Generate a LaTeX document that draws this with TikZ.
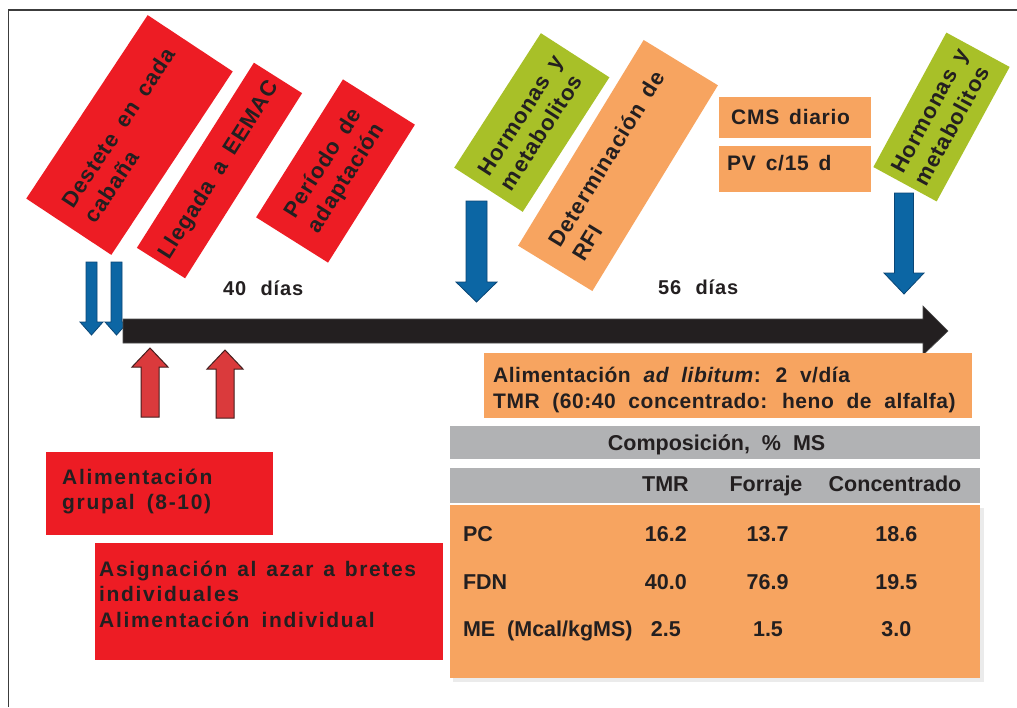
\documentclass[tikz,border=0pt]{standalone}
\usepackage{fontspec}
\setmainfont{Liberation Sans}
\newfontfamily\rotf[LetterSpace=4,WordSpace=1.6]{Liberation Sans}
\newfontfamily\redf[LetterSpace=8,WordSpace=1.6]{Liberation Sans}
\newfontfamily\orgf[LetterSpace=2.5,WordSpace=2]{Liberation Sans}
\newfontfamily\cmsf[LetterSpace=3.5,WordSpace=1.5]{Liberation Sans}
\newfontfamily\dayf[LetterSpace=4.5,WordSpace=2.2]{Liberation Sans}
\newfontfamily\tabf[WordSpace=2]{Liberation Sans}
\definecolor{boxred}{RGB}{237,28,36}
\definecolor{boxorange}{RGB}{247,164,96}
\definecolor{boxgreen}{RGB}{168,192,40}
\definecolor{boxgray}{RGB}{177,178,180}
\definecolor{txt}{RGB}{35,31,32}
\definecolor{arrblue}{RGB}{12,102,164}
\definecolor{arrblueD}{RGB}{10,70,118}
\definecolor{arrred}{RGB}{218,58,60}
\definecolor{arrredD}{RGB}{70,30,30}
\definecolor{framec}{RGB}{60,60,60}
\newcommand\tstrut{\rule{0pt}{18pt}}
\begin{document}
\begin{tikzpicture}[x=1pt,y=-1pt,
  rotbox/.style={draw=none,inner sep=0pt,align=left,text=txt,
    font=\rotf\bfseries\fontsize{22}{27}\selectfont},
  flatbox/.style={draw=none,inner sep=0pt,anchor=north west},
  redtext/.style={inner sep=0pt,anchor=north west,align=left,text=txt,
    font=\redf\bfseries\fontsize{21}{25.5}\selectfont},
  orgtext/.style={inner sep=0pt,text=txt,font=\orgf\bfseries\fontsize{21}{25.5}\selectfont},
  cmstext/.style={inner sep=0pt,anchor=base west,text=txt,font=\cmsf\bfseries\fontsize{21}{25}\selectfont},
  daytext/.style={inner sep=0pt,anchor=base west,text=txt,font=\dayf\bfseries\fontsize{20}{24}\selectfont},
  tabtext/.style={inner sep=0pt,anchor=base,text=txt,font=\tabf\bfseries\fontsize{21.5}{25}\selectfont},
  tablabel/.style={tabtext,anchor=base west},
  bluearrow/.style={fill=arrblue,draw=arrblueD,line width=0.8pt,line join=miter},
  redarrow/.style={fill=arrred,draw=arrredD,line width=1pt,line join=miter},
  timeline/.style={fill=txt,draw=black!70,line width=0.6pt}]
\useasboundingbox (0,0) rectangle (1017,707);
\fill[white] (0,0) rectangle (1017,707);
\draw[framec,line width=1.6pt] (8.5,707) -- (8.5,10) -- (1017,10);

% rotated boxes
\node[rotbox,fill=boxred,minimum width=220,minimum height=102,rotate=56.5] (destete) at (129.5,135) {Destete en cada\\cabaña};
\node[rotbox,fill=boxred,minimum width=219,minimum height=57,rotate=57.7,align=center] (llegada) at (219.5,170.5) {Llegada a EEMAC};
\node[rotbox,fill=boxred,minimum width=163,minimum height=85,rotate=57.8] (periodo) at (335.5,171) {Período de\\adaptación};
\node[rotbox,fill=boxgreen,minimum width=160,minimum height=81.5,rotate=57.2] (horm1) at (531.8,122.5) {Hormonas y\\metabolitos};
\node[rotbox,fill=boxorange,minimum width=241,minimum height=87,rotate=58.6] (rfi) at (618,165.5) {Determinación de\\RFI};
\node[rotbox,fill=boxgreen,minimum width=153,minimum height=72,rotate=61.5] (horm2) at (941.5,117) {Hormonas y\\metabolitos};

% CMS / PV
\node[flatbox,fill=boxorange,minimum width=152,minimum height=41] (cmsbox) at (719,97) {};
\node[cmstext] (cms) at (731,124.3) {CMS diario};
\node[flatbox,fill=boxorange,minimum width=152,minimum height=46] (pvbox) at (719,146) {};
\node[cmstext] (pv) at (727,170) {PV c/15 d};

% blue arrows
\draw[bluearrow] (86,262) -- (97,262) -- (97,322) -- (103,322) -- (91.5,335) -- (80,322) -- (86,322) -- cycle;
\draw[bluearrow] (111,262) -- (122,262) -- (122,322) -- (128,322) -- (116.5,335) -- (105,322) -- (111,322) -- cycle;
\draw[bluearrow] (466,201) -- (487,201) -- (487,282) -- (497,282) -- (476.5,302) -- (456,282) -- (466,282) -- cycle;
\draw[bluearrow] (894.5,193) -- (913.5,193) -- (913.5,273) -- (924,273) -- (904,294) -- (884,273) -- (894.5,273) -- cycle;

% timeline
\draw[timeline] (123,319) -- (923,319) -- (923,306) -- (948,331) -- (923,355) -- (923,343) -- (123,343) -- cycle;
\node[daytext] (d40) at (223,295) {40 días};
\node[daytext] (d56) at (658,294) {56 días};

% red arrows
\draw[redarrow] (141,417) -- (159,417) -- (159,367) -- (168,367) -- (150,348) -- (132,367) -- (141,367) -- cycle;
\draw[redarrow] (216,418) -- (234,418) -- (234,369) -- (243,369) -- (225,350) -- (207,369) -- (216,369) -- cycle;

% red flat boxes
\node[flatbox,fill=boxred,minimum width=227,minimum height=83] (grupalbox) at (46,452) {};
\node[redtext] (grupal) at (62,466) {\tstrut Alimentación\\grupal (8-10)};
\node[flatbox,fill=boxred,minimum width=348,minimum height=117] (asigbox) at (95,543) {};
\node[redtext,text width=317pt,align=justify] (asig) at (99,558) {\tstrut Asignación al azar a bretes individuales\\Alimentación individual};

% ad libitum box
\node[flatbox,fill=boxorange,minimum width=488,minimum height=65] (adlibbox) at (484,353) {};
\node[orgtext,anchor=north west,align=left] (adlib) at (493,364.7) {\tstrut Alimentación \textit{ad libitum}: 2 v/día\\TMR (60:40 concentrado: heno de alfalfa)};

% table
\fill[black!8] (453,508) rectangle (984,682);
\node[flatbox,fill=boxgray,minimum width=530,minimum height=33] (head1) at (450,426) {};
\node[flatbox,fill=boxgray,minimum width=530,minimum height=35] (head2) at (450,468) {};
\node[flatbox,fill=boxorange,minimum width=530,minimum height=173] (body) at (450,505) {};
\node[tabtext] (comp) at (716.6,450) {Composición, \% MS};
\node[tabtext] (hTMR) at (665.4,491.7) {TMR};
\node[tabtext] (hFor) at (766,491.7) {Forraje};
\node[tabtext] (hCon) at (895,491.7) {Concentrado};
\node[tablabel] (lPC) at (462.8,541) {PC};
\node[tablabel] (lFDN) at (462.8,589) {FDN};
\node[tablabel] (lME) at (462.8,636.7) {ME (Mcal/kgMS)};
\node[tabtext] (v11) at (665.8,541) {16.2};
\node[tabtext] (v12) at (767.6,541) {13.7};
\node[tabtext] (v13) at (896.4,541) {18.6};
\node[tabtext] (v21) at (665.8,589) {40.0};
\node[tabtext] (v22) at (767.6,589) {76.9};
\node[tabtext] (v23) at (896.4,589) {19.5};
\node[tabtext] (v31) at (665.8,636.7) {2.5};
\node[tabtext] (v32) at (768,636.7) {1.5};
\node[tabtext] (v33) at (896.4,636.7) {3.0};
\end{tikzpicture}
\end{document}
